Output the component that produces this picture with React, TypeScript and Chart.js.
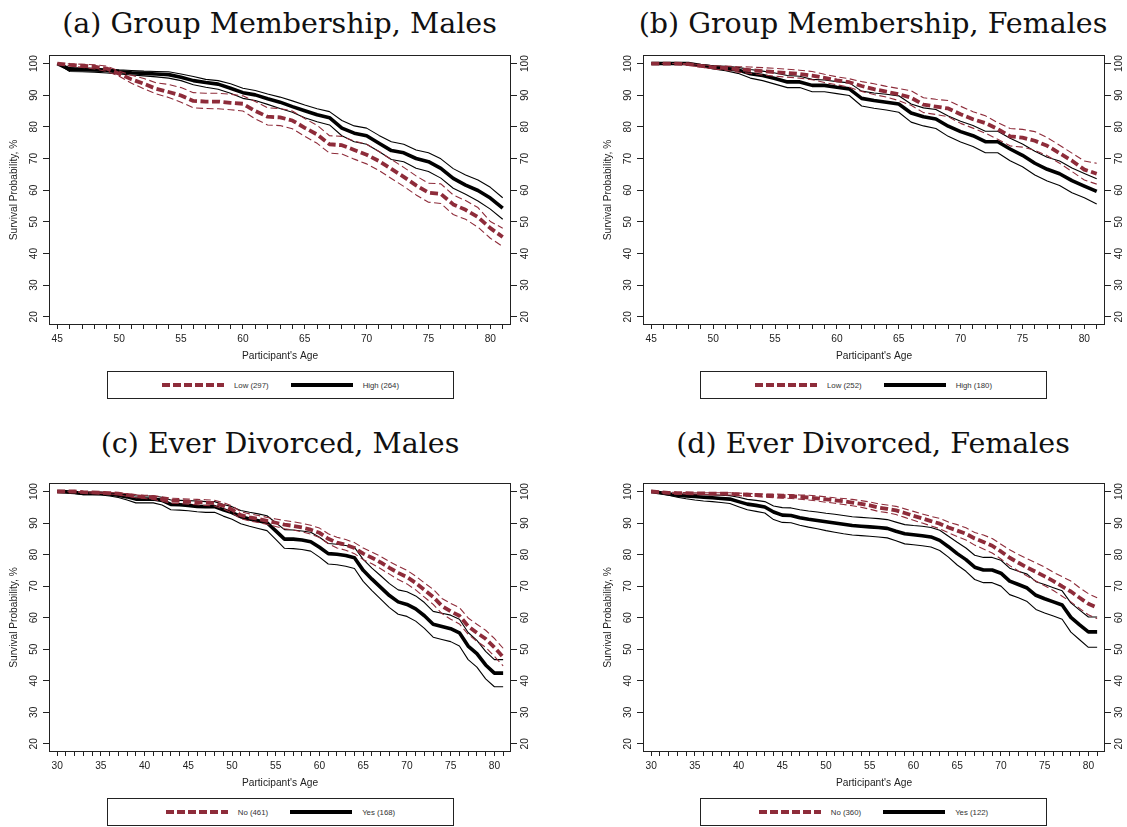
import React, { useEffect, useRef } from "react";
import { Chart, registerables } from "chart.js";
Chart.register(...registerables);

// ---------- data ----------
const agesAB = [45, 46, 47, 48, 49, 50, 51, 52, 53, 54, 55, 56, 57, 58, 59, 60, 61, 62, 63, 64, 65, 66, 67, 68, 69, 70, 71, 72, 73, 74, 75, 76, 77, 78, 79, 80, 81];
const agesCD = [30, 31, 32, 33, 34, 35, 36, 37, 38, 39, 40, 41, 42, 43, 44, 45, 46, 47, 48, 49, 50, 51, 52, 53, 54, 55, 56, 57, 58, 59, 60, 61, 62, 63, 64, 65, 66, 67, 68, 69, 70, 71, 72, 73, 74, 75, 76, 77, 78, 79, 80, 81];
const xLabelsAB = [45, 50, 55, 60, 65, 70, 75, 80];
const xLabelsCD = [30, 35, 40, 45, 50, 55, 60, 65, 70, 75, 80];
const yTicks = [20, 30, 40, 50, 60, 70, 80, 90, 100];

// (a) Group Membership, Males
const aLow = [100, 99.6, 99.3, 99.0, 98.4, 96.8, 95.0, 93.6, 92.0, 91.0, 89.9, 88.2, 88.0, 88.0, 87.6, 87.3, 85.0, 83.2, 83.0, 82.0, 79.7, 77.6, 74.5, 74.2, 72.7, 71.2, 69.2, 66.7, 64.2, 61.5, 59.2, 58.8, 55.5, 53.8, 51.5, 48.0, 45.2];
const aLowUp = [100, 99.9, 99.8, 99.6, 99.2, 97.6, 96.3, 95.3, 93.9, 93.4, 92.4, 90.8, 90.6, 90.6, 90.3, 89.8, 88.0, 86.0, 85.8, 85.0, 82.6, 80.5, 77.2, 77.0, 75.5, 74.5, 72.2, 69.7, 67.2, 64.5, 62.2, 62.0, 58.5, 56.7, 54.5, 50.1, 48.0];
const aLowLo = [100, 99.3, 98.8, 98.3, 97.5, 96.0, 93.8, 92.0, 90.4, 89.3, 87.8, 86.0, 85.8, 85.7, 85.4, 85.0, 82.5, 80.6, 80.4, 79.4, 77.0, 74.8, 71.7, 71.4, 69.8, 68.3, 66.2, 63.7, 61.2, 58.5, 56.2, 55.8, 52.3, 50.8, 48.3, 44.8, 42.2];
const aHigh = [100, 98.2, 98.1, 98.0, 97.8, 97.4, 97.1, 96.9, 96.7, 96.5, 95.7, 94.6, 94.0, 93.5, 92.2, 90.8, 90.1, 88.9, 87.8, 86.4, 85.1, 83.8, 82.9, 79.6, 78.0, 77.2, 74.8, 72.5, 71.8, 70.0, 69.0, 66.9, 63.7, 61.6, 59.9, 57.5, 54.3];
const aHighUp = [100, 98.7, 98.6, 98.5, 98.3, 98.0, 97.8, 97.6, 97.5, 97.4, 96.7, 95.9, 95.0, 94.6, 93.6, 92.2, 91.5, 90.4, 89.4, 88.2, 86.9, 85.7, 84.8, 82.0, 80.3, 79.6, 77.3, 75.3, 74.5, 72.7, 71.8, 69.9, 66.8, 64.8, 63.2, 60.9, 57.6];
const aHighLo = [100, 97.5, 97.4, 97.3, 97.0, 96.7, 96.4, 96.1, 95.8, 95.4, 94.6, 93.3, 92.5, 91.9, 90.6, 89.0, 88.3, 87.1, 85.8, 84.6, 82.9, 81.6, 80.6, 77.2, 75.3, 74.5, 72.2, 69.7, 69.0, 66.9, 65.9, 63.8, 60.6, 58.7, 56.6, 54.0, 50.8];

// (b) Group Membership, Females
const bLow = [100, 100, 100, 99.8, 99.3, 98.8, 98.6, 98.2, 97.9, 97.6, 97.3, 97.0, 96.7, 96.2, 95.5, 94.7, 94.1, 92.9, 91.9, 91.1, 90.3, 89.2, 87.0, 86.4, 85.8, 84.0, 82.4, 81.2, 79.3, 77.0, 76.6, 75.6, 74.0, 71.7, 69.3, 66.5, 65.2];
const bLowUp = [100, 100, 100, 100, 99.6, 99.3, 99.2, 99.0, 98.9, 98.7, 98.5, 98.2, 97.9, 97.5, 96.6, 95.8, 95.2, 94.3, 93.6, 92.8, 92.1, 91.4, 89.2, 88.7, 88.3, 86.5, 84.8, 83.5, 81.3, 79.5, 79.2, 78.5, 76.6, 74.2, 71.7, 69.2, 68.5];
const bLowLo = [100, 100, 100, 99.5, 98.9, 98.3, 97.9, 97.3, 96.9, 96.4, 96.0, 95.7, 95.4, 94.9, 94.0, 93.3, 92.5, 91.2, 90.2, 89.4, 88.3, 86.8, 84.5, 83.9, 83.2, 81.1, 79.6, 78.0, 76.1, 74.0, 73.6, 72.6, 70.9, 68.5, 65.9, 63.2, 61.9];
const bHigh = [100, 100, 100, 100, 99.4, 98.9, 98.4, 98.0, 96.8, 96.2, 95.3, 94.2, 94.2, 93.1, 93.1, 92.5, 92.0, 89.0, 88.3, 87.8, 87.2, 84.4, 83.2, 82.5, 80.2, 78.5, 77.2, 75.3, 75.3, 73.0, 71.0, 68.5, 66.6, 65.2, 63.0, 61.3, 59.6];
const bHighUp = [100, 100, 100, 100, 99.7, 99.3, 99.1, 98.8, 98.1, 97.6, 97.0, 96.2, 96.0, 95.0, 94.8, 94.3, 93.9, 91.3, 90.7, 90.3, 89.8, 87.2, 86.0, 85.5, 83.4, 81.8, 80.4, 78.6, 78.6, 76.4, 74.6, 72.3, 70.4, 69.2, 67.0, 65.3, 63.6];
const bHighLo = [100, 100, 100, 100, 99.2, 98.3, 97.7, 96.9, 95.4, 94.6, 93.5, 92.4, 92.4, 91.1, 91.1, 90.5, 89.9, 86.6, 85.9, 85.3, 84.6, 81.5, 80.3, 79.5, 77.0, 75.2, 73.8, 71.8, 71.8, 69.3, 67.4, 64.8, 62.9, 61.5, 59.2, 57.6, 55.6];

// (c) Ever Divorced, Males
const cNo = [100, 100, 100, 99.8, 99.7, 99.6, 99.5, 99.3, 98.9, 98.5, 98.3, 98.1, 97.6, 97.1, 97.0, 96.8, 96.6, 96.5, 96.3, 95.5, 94.3, 92.5, 91.8, 91.3, 90.7, 90.1, 89.5, 89.1, 88.6, 87.9, 86.9, 85.0, 83.8, 83.1, 82.1, 80.3, 79.0, 77.5, 75.8, 74.2, 72.9, 71.0, 68.8, 66.6, 63.7, 62.0, 60.6, 57.3, 55.2, 53.3, 50.6, 47.5];
const cNoUp = [100, 100, 100, 100, 99.9, 99.8, 99.7, 99.6, 99.3, 99.0, 98.8, 98.7, 98.3, 97.9, 97.8, 97.6, 97.5, 97.4, 97.2, 96.5, 95.4, 93.6, 92.9, 92.4, 91.8, 91.3, 90.8, 90.4, 89.9, 89.3, 88.4, 86.6, 85.5, 84.8, 83.8, 82.1, 80.8, 79.4, 77.8, 76.3, 75.0, 73.2, 71.0, 69.0, 66.1, 64.5, 63.2, 59.9, 57.9, 56.0, 53.4, 50.3];
const cNoLo = [100, 100, 99.9, 99.6, 99.5, 99.4, 99.2, 99.0, 98.5, 98.0, 97.8, 97.5, 96.9, 96.3, 96.2, 96.0, 95.8, 95.6, 95.4, 94.5, 93.2, 91.4, 90.7, 90.2, 89.6, 88.9, 88.2, 87.8, 87.2, 86.5, 85.4, 83.5, 82.1, 81.4, 80.3, 78.4, 77.1, 75.5, 73.8, 72.1, 70.7, 68.8, 66.5, 64.2, 61.3, 59.5, 58.0, 54.7, 52.5, 50.6, 47.7, 44.7];
const cYes = [100, 99.9, 99.7, 99.4, 99.4, 99.4, 99.2, 98.8, 98.3, 97.6, 97.6, 97.6, 97.2, 95.9, 95.8, 95.6, 95.3, 95.2, 95.2, 94.2, 93.3, 92.0, 91.3, 90.7, 90.1, 87.5, 84.9, 84.9, 84.6, 84.1, 82.3, 80.3, 80.1, 79.7, 79.0, 75.0, 72.2, 69.6, 67.0, 65.0, 64.2, 62.8, 60.6, 57.9, 57.2, 56.5, 55.2, 51.0, 48.6, 45.0, 42.4, 42.4];
const cYesUp = [100, 100, 99.9, 99.8, 99.7, 99.7, 99.5, 99.3, 99.0, 98.6, 98.6, 98.6, 98.2, 97.3, 97.2, 97.1, 97.0, 96.8, 96.8, 95.9, 95.2, 94.0, 93.4, 92.9, 92.3, 90.1, 87.9, 87.8, 87.5, 87.1, 85.5, 83.5, 83.3, 82.9, 82.3, 78.5, 75.7, 73.3, 70.8, 68.8, 68.2, 66.9, 64.8, 62.0, 61.4, 60.8, 59.5, 55.3, 52.8, 49.3, 46.7, 46.7];
const cYesLo = [100, 99.7, 99.4, 99.0, 99.0, 98.9, 98.6, 98.1, 97.3, 96.4, 96.4, 96.4, 95.7, 94.2, 94.1, 93.9, 93.6, 93.4, 93.4, 92.2, 91.2, 89.8, 89.0, 88.3, 87.6, 84.8, 82.0, 81.9, 81.6, 81.1, 79.2, 77.0, 76.8, 76.3, 75.6, 71.5, 68.6, 65.9, 63.2, 61.1, 60.4, 58.9, 56.6, 53.8, 53.1, 52.4, 51.0, 46.7, 44.3, 40.6, 38.1, 38.1];

// (d) Ever Divorced, Females
const dNo = [100, 99.8, 99.6, 99.5, 99.5, 99.4, 99.4, 99.3, 99.3, 99.3, 99.1, 99.0, 98.9, 98.7, 98.6, 98.5, 98.5, 98.3, 98.1, 97.8, 97.5, 97.2, 96.9, 96.5, 96.1, 95.6, 94.9, 94.5, 94.0, 93.2, 92.3, 91.5, 90.6, 89.8, 88.6, 87.6, 86.6, 85.1, 84.0, 82.8, 81.0, 79.0, 77.4, 75.9, 74.5, 73.1, 71.6, 69.9, 68.3, 66.3, 64.4, 63.2];
const dNoUp = [100, 99.9, 99.8, 99.7, 99.7, 99.6, 99.6, 99.6, 99.6, 99.6, 99.5, 99.4, 99.3, 99.2, 99.2, 99.1, 99.0, 98.9, 98.8, 98.6, 98.3, 98.0, 97.8, 97.5, 97.1, 96.7, 96.1, 95.7, 95.3, 94.5, 93.7, 92.9, 92.1, 91.5, 90.3, 89.5, 88.5, 87.0, 86.2, 85.1, 83.3, 81.5, 80.0, 78.7, 77.4, 76.0, 74.4, 73.0, 71.6, 69.5, 67.6, 66.3];
const dNoLo = [100, 99.7, 99.5, 99.3, 99.2, 99.2, 99.1, 99.0, 98.9, 98.9, 98.7, 98.5, 98.4, 98.2, 98.0, 97.9, 97.8, 97.6, 97.3, 97.0, 96.6, 96.3, 95.9, 95.5, 95.0, 94.4, 93.7, 93.3, 92.7, 91.8, 90.9, 90.0, 89.1, 88.2, 86.9, 85.7, 84.6, 83.0, 81.8, 80.5, 78.6, 76.5, 74.8, 73.2, 71.6, 70.1, 68.6, 66.8, 65.0, 62.9, 60.9, 59.7];
const dYes = [100, 99.6, 99.2, 98.8, 98.6, 98.4, 98.2, 98.0, 97.8, 97.6, 96.8, 96.0, 95.6, 95.1, 93.5, 92.5, 92.4, 91.7, 91.2, 90.8, 90.4, 90.0, 89.6, 89.2, 89.0, 88.8, 88.6, 88.3, 87.4, 86.6, 86.3, 86.0, 85.6, 84.5, 82.5, 80.3, 78.4, 76.0, 75.1, 75.1, 74.1, 71.6, 70.5, 69.4, 67.1, 66.0, 65.0, 64.0, 60.1, 57.7, 55.5, 55.5];
const dYesUp = [100, 99.8, 99.5, 99.3, 99.2, 99.1, 99.0, 98.9, 98.8, 98.7, 98.2, 97.5, 97.2, 96.8, 95.4, 94.9, 94.8, 94.2, 93.8, 93.5, 93.1, 92.8, 92.4, 92.0, 91.8, 91.6, 91.4, 91.1, 90.3, 89.5, 89.2, 89.0, 88.6, 87.7, 85.8, 83.9, 82.1, 79.8, 79.1, 79.1, 78.2, 75.7, 74.7, 73.8, 71.4, 70.5, 69.5, 68.5, 64.7, 62.4, 60.2, 60.2];
const dYesLo = [100, 99.4, 98.8, 98.2, 97.7, 97.3, 97.0, 96.8, 96.5, 96.2, 95.2, 94.2, 93.7, 93.2, 91.1, 90.2, 90.1, 89.3, 88.7, 88.2, 87.6, 87.1, 86.6, 86.2, 86.0, 85.8, 85.6, 85.3, 84.4, 83.4, 83.1, 82.8, 82.4, 81.3, 79.2, 76.7, 74.7, 72.1, 71.1, 71.1, 70.0, 67.3, 66.3, 65.1, 62.6, 61.5, 60.5, 59.5, 55.4, 53.0, 50.6, 50.6];

// ---------- styles ----------
const RED = "rgb(142,44,58)";
const BLACK = "#000";
const INK = "#222";
const SANS = "'Liberation Sans', Arial, Helvetica, sans-serif";
const SERIF = "'DejaVu Serif', serif";
const FS = 10.2;

const framePlugin = {
  id: "frame",
  afterDatasetsDraw(chart: any) {
    const { ctx, chartArea } = chart;
    const l = Math.round(chartArea.left), t = Math.round(chartArea.top);
    const r = Math.round(chartArea.right), b = Math.round(chartArea.bottom);
    ctx.save();
    ctx.strokeStyle = INK;
    ctx.lineWidth = 1;
    ctx.strokeRect(l + 0.5, t + 0.5, r - l - 1, b - t - 1);
    ctx.restore();
  },
};

type Rect = { left: number; top: number; width: number; height: number };
type PanelProps = {
  title: string;
  titleCx: number;
  titleTop: number;
  box: Rect;
  pad: { left: number; right: number; top: number; bottom: number };
  rightAxisWidth: number;
  xMin: number;
  xMax: number;
  ages: number[];
  xLabels: number[];
  red: number[]; redUp: number[]; redLo: number[];
  black: number[]; blackUp: number[]; blackLo: number[];
  redLabel: string;
  blackLabel: string;
  legend: Rect;
};

function Panel(p: PanelProps) {
  const ref = useRef<HTMLCanvasElement | null>(null);
  useEffect(() => {
    if (!ref.current) return;
    const pts = (vals: number[]) => p.ages.map((a, i) => ({ x: a, y: vals[i] }));
    const line = (vals: number[], color: string, w: number, dash: number[]) => ({
      data: pts(vals),
      borderColor: color,
      backgroundColor: color,
      borderWidth: w,
      borderDash: dash,
      pointRadius: 0,
      tension: 0,
      fill: false,
      borderJoinStyle: "round" as const,
      borderCapStyle: "butt" as const,
    });
    const tickFont = { family: SANS, size: FS };
    const grid = (len: number) => ({
      display: true,
      drawOnChartArea: false,
      drawTicks: true,
      tickLength: len,
      color: INK,
      lineWidth: 1,
    });
    const yAxis = (pos: "left" | "right", width: number, withTitle: boolean) => ({
      type: "linear" as const,
      position: pos,
      min: 17.4,
      max: 102.7,
      afterBuildTicks: (s: any) => {
        s.ticks = yTicks.map((v) => ({ value: v }));
      },
      afterFit: (s: any) => {
        s.width = width;
      },
      grid: grid(6),
      border: { display: false },
      ticks: {
        autoSkip: false,
        minRotation: 90,
        maxRotation: 90,
        crossAlign: "center" as const,
        padding: 0,
        color: INK,
        font: tickFont,
        callback: (v: any) => String(v),
      },
      title: {
        display: withTitle,
        text: "Survival Probability, %",
        color: INK,
        font: { family: SANS, size: FS },
        padding: { top: 8.2, bottom: 0 },
      },
    });
    const chart = new Chart(ref.current, {
      type: "line",
      data: {
        datasets: [
          line(p.red, RED, 3.8, [8, 3.5]),
          line(p.redUp, RED, 1.1, [7, 3.5]),
          line(p.redLo, RED, 1.1, [7, 3.5]),
          line(p.black, BLACK, 3.6, []),
          line(p.blackUp, BLACK, 1.1, []),
          line(p.blackLo, BLACK, 1.1, []),
        ] as any,
      },
      options: {
        responsive: false,
        maintainAspectRatio: false,
        animation: false,
        layout: { padding: p.pad },
        plugins: {
          legend: { display: false },
          tooltip: { enabled: false },
          title: { display: false },
        },
        scales: {
          x: {
            type: "linear",
            min: p.xMin,
            max: p.xMax,
            afterBuildTicks: (s: any) => {
              s.ticks = p.ages.map((v) => ({ value: v }));
            },
            afterFit: (s: any) => {
              s.height = 45;
            },
            grid: grid(4),
            border: { display: false },
            ticks: {
              autoSkip: false,
              minRotation: 0,
              maxRotation: 0,
              padding: 4.5,
              color: INK,
              font: tickFont,
              callback: (v: any) => (p.xLabels.includes(Number(v)) ? String(v) : ""),
            },
            title: {
              display: true,
              text: "Participant's Age",
              color: INK,
              font: { family: SANS, size: FS },
              padding: { top: 0, bottom: 7.2 },
            },
          },
          y: yAxis("left", 49, true),
          y2: yAxis("right", p.rightAxisWidth, false),
        } as any,
      },
      plugins: [framePlugin],
    });
    return () => chart.destroy();
  }, []);

  const dashed = `repeating-linear-gradient(to right, ${RED} 0px, ${RED} 8px, transparent 8px, transparent 11px)`;
  return (
    <>
      <div
        style={{
          position: "absolute",
          left: p.titleCx - 300,
          width: 600,
          top: p.titleTop,
          textAlign: "center",
          fontFamily: SERIF,
          fontSize: 28.5,
          lineHeight: 1,
          whiteSpace: "nowrap",
          color: "#111",
        }}
      >
        {p.title}
      </div>
      <canvas
        ref={ref}
        width={p.box.width}
        height={p.box.height}
        style={{ position: "absolute", left: p.box.left, top: p.box.top, width: p.box.width, height: p.box.height }}
      />
      <div
        style={{
          position: "absolute",
          left: p.legend.left,
          top: p.legend.top,
          width: p.legend.width,
          height: p.legend.height,
          boxSizing: "border-box",
          border: `1px solid ${INK}`,
          display: "flex",
          alignItems: "center",
          justifyContent: "center",
          gap: 22,
          fontFamily: SANS,
          fontSize: 7.8,
          color: "#333",
        }}
      >
        <div style={{ display: "flex", alignItems: "center", gap: 10 }}>
          <div style={{ width: 62, height: 4, background: dashed }} />
          <span>{p.redLabel}</span>
        </div>
        <div style={{ display: "flex", alignItems: "center", gap: 10 }}>
          <div style={{ width: 62, height: 4, background: BLACK }} />
          <span>{p.blackLabel}</span>
        </div>
      </div>
    </>
  );
}

export default function App() {
  const padLeft = { left: 0, right: 19, top: 10, bottom: 0 };
  const padRight = { left: 34, right: 0, top: 10, bottom: 0 };
  return (
    <div style={{ position: "absolute", left: 0, top: 0, width: 1127, height: 827, background: "#fff", overflow: "hidden" }}>
      <Panel
        title="(a) Group Membership, Males"
        titleCx={279.5}
        titleTop={10}
        box={{ left: 0, top: 45, width: 560, height: 325 }}
        pad={padLeft}
        rightAxisWidth={30}
        xMin={44.33}
        xMax={81.67}
        ages={agesAB}
        xLabels={xLabelsAB}
        red={aLow} redUp={aLowUp} redLo={aLowLo}
        black={aHigh} blackUp={aHighUp} blackLo={aHighLo}
        redLabel="Low (297)"
        blackLabel="High (264)"
        legend={{ left: 107, top: 371, width: 347, height: 28 }}
      />
      <Panel
        title="(b) Group Membership, Females"
        titleCx={873}
        titleTop={10}
        box={{ left: 560, top: 45, width: 567, height: 325 }}
        pad={padRight}
        rightAxisWidth={22}
        xMin={44.33}
        xMax={81.67}
        ages={agesAB}
        xLabels={xLabelsAB}
        red={bLow} redUp={bLowUp} redLo={bLowLo}
        black={bHigh} blackUp={bHighUp} blackLo={bHighLo}
        redLabel="Low (252)"
        blackLabel="High (180)"
        legend={{ left: 700, top: 371, width: 347, height: 28 }}
      />
      <Panel
        title="(c) Ever Divorced, Males"
        titleCx={280}
        titleTop={430}
        box={{ left: 0, top: 473, width: 560, height: 324 }}
        pad={padLeft}
        rightAxisWidth={30}
        xMin={29.07}
        xMax={81.9}
        ages={agesCD}
        xLabels={xLabelsCD}
        red={cNo} redUp={cNoUp} redLo={cNoLo}
        black={cYes} blackUp={cYesUp} blackLo={cYesLo}
        redLabel="No (461)"
        blackLabel="Yes (168)"
        legend={{ left: 107, top: 798, width: 347, height: 28 }}
      />
      <Panel
        title="(d) Ever Divorced, Females"
        titleCx={873}
        titleTop={430}
        box={{ left: 560, top: 473, width: 567, height: 324 }}
        pad={padRight}
        rightAxisWidth={22}
        xMin={29.07}
        xMax={81.9}
        ages={agesCD}
        xLabels={xLabelsCD}
        red={dNo} redUp={dNoUp} redLo={dNoLo}
        black={dYes} blackUp={dYesUp} blackLo={dYesLo}
        redLabel="No (360)"
        blackLabel="Yes (122)"
        legend={{ left: 700, top: 798, width: 347, height: 28 }}
      />
    </div>
  );
}
